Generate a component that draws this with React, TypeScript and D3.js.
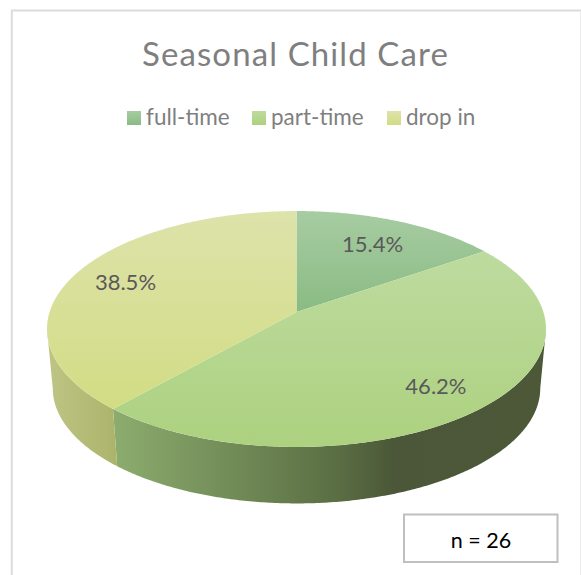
import { useRef, useEffect } from "react";
import * as d3 from "d3";

const categories = ["full-time", "part-time", "drop in"];
const counts = [4, 12, 10];
const total = 26;

const topLight = ["#a7cca2", "#bedb9f", "#dde3aa"];
const topDark = ["#8abb83", "#acd17f", "#d2dc84"];

// side wall colours, left to right, by slice
const wallStops = [
  [],
  [
    [115, "#8cac6e"],
    [280, "#677e4e"],
    [340, "#5a6d43"],
    [395, "#4b5738"],
    [540, "#4c5838"],
  ],
  [
    [53, "#bdc382"],
    [115, "#acb46c"],
  ],
];

const labelRadius = [0.725, 0.78, 0.77];
const legendX = [127, 252, 387];

const width = 581;
const height = 575;

// perspective of the pie disc, fitted to the picture
const center = { x: 296.5, y: 312 };
const rx = 246.9;
const ry = 115.5;
const tilt = 0.144;
const depth = 59.6;
const shrink = 0.977;

const project = (angle: number, r = 1, lower = false): [number, number] => {
  const X = r * Math.sin(angle);
  const Y = -r * Math.cos(angle);
  const w = 1 - tilt * Y;
  const s = lower ? shrink : 1;
  return [
    center.x + (s * rx * X) / w,
    center.y + (lower ? depth : 0) + (s * ry * Y) / w,
  ];
};

const arcAngles = (a0: number, a1: number) => {
  const n = Math.max(2, Math.ceil((a1 - a0) / 0.01));
  return d3.range(n + 1).map((i) => a0 + ((a1 - a0) * i) / n);
};

const App = () => {
  const svgRef = useRef<SVGSVGElement>(null);

  useEffect(() => {
    const svg = d3.select(svgRef.current);
    svg.selectAll("*").remove();

    const font = "Lato, 'Open Sans', sans-serif";
    const slices = d3.pie<number>().sort(null)(counts);
    const line = d3.line();
    const defs = svg.append("defs");

    categories.forEach((_, i) => {
      const g = defs
        .append("linearGradient")
        .attr("id", `top${i}`)
        .attr("x1", 0)
        .attr("y1", 0)
        .attr("x2", 0)
        .attr("y2", 1);
      g.append("stop").attr("offset", 0).attr("stop-color", topLight[i]);
      g.append("stop").attr("offset", 1).attr("stop-color", topDark[i]);

      if (wallStops[i].length) {
        const x0 = wallStops[i][0][0] as number;
        const x1 = wallStops[i][wallStops[i].length - 1][0] as number;
        const w = defs
          .append("linearGradient")
          .attr("id", `wall${i}`)
          .attr("gradientUnits", "userSpaceOnUse")
          .attr("x1", x0)
          .attr("y1", 0)
          .attr("x2", x1)
          .attr("y2", 0);
        wallStops[i].forEach((s) => {
          w.append("stop")
            .attr("offset", ((s[0] as number) - x0) / (x1 - x0))
            .attr("stop-color", s[1] as string);
        });
      }
    });

    // outer frame, the right side is only a faint line
    svg
      .append("path")
      .attr("d", `M${width},10.5H11.8V${height}`)
      .attr("fill", "none")
      .attr("stroke", "#dcdcdc")
      .attr("stroke-width", 2);
    svg
      .append("line")
      .attr("x1", width - 0.5)
      .attr("x2", width - 0.5)
      .attr("y1", 11)
      .attr("y2", height)
      .attr("stroke", "#ececec")
      .attr("stroke-width", 1);

    svg
      .append("text")
      .attr("x", 295.5)
      .attr("y", 66)
      .attr("text-anchor", "middle")
      .attr("font-family", font)
      .attr("font-size", 33)
      .attr("letter-spacing", 1.1)
      .attr("fill", "#7f7f7f")
      .text("Seasonal Child Care");

    // legend
    categories.forEach((name, i) => {
      svg
        .append("rect")
        .attr("x", legendX[i])
        .attr("y", 111)
        .attr("width", 14)
        .attr("height", 14)
        .attr("fill", `url(#top${i})`);
      svg
        .append("text")
        .attr("x", legendX[i] + 19)
        .attr("y", 125)
        .attr("font-family", font)
        .attr("font-size", 22.5)
        .attr("fill", "#7f7f7f")
        .text(name);
    });

    // side walls, only the part of the rim that faces the viewer
    const leftEdge = Math.PI * 2 - Math.acos(-tilt);
    const rightEdge = Math.acos(-tilt);
    slices.forEach((d, i) => {
      const a0 = Math.max(d.startAngle, rightEdge);
      const a1 = Math.min(d.endAngle, leftEdge);
      if (a1 <= a0) return;
      const angles = arcAngles(a0, a1);
      const pts = [
        ...angles.map((a) => project(a)),
        ...angles.slice().reverse().map((a) => project(a, 1, true)),
      ];
      svg
        .append("path")
        .attr("d", line(pts) + "Z")
        .attr("fill", `url(#wall${i})`);
    });

    // top of the disc
    slices.forEach((d, i) => {
      const pts = [
        project(0, 0),
        ...arcAngles(d.startAngle, d.endAngle).map((a) => project(a)),
      ];
      svg
        .append("path")
        .attr("d", line(pts) + "Z")
        .attr("fill", `url(#top${i})`);
    });

    // data labels
    slices.forEach((d, i) => {
      const [x, y] = project((d.startAngle + d.endAngle) / 2, labelRadius[i]);
      svg
        .append("text")
        .attr("x", x)
        .attr("y", y + 8)
        .attr("text-anchor", "middle")
        .attr("font-family", font)
        .attr("font-size", 22)
        .attr("fill", "#595959")
        .text(d3.format(".1%")(d.value / total));
    });

    // n box
    svg
      .append("rect")
      .attr("x", 404)
      .attr("y", 514.5)
      .attr("width", 153.5)
      .attr("height", 47.5)
      .attr("fill", "#fff")
      .attr("stroke", "#bfbfbf")
      .attr("stroke-width", 2);
    svg
      .append("text")
      .attr("x", 481)
      .attr("y", 548)
      .attr("text-anchor", "middle")
      .attr("font-family", font)
      .attr("font-size", 21.5)
      .attr("fill", "#000")
      .text(`n = ${total}`);
  }, []);

  return (
    <svg
      ref={svgRef}
      width={width}
      height={height}
      style={{ position: "absolute", left: 0, top: 0, background: "#fff" }}
    ></svg>
  );
};

export default App;
